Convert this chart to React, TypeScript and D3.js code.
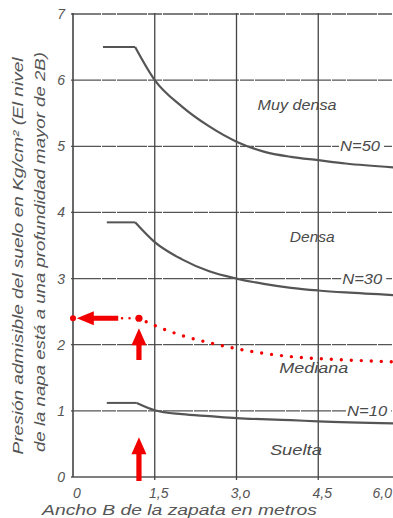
import React from 'react';
import * as d3 from 'd3';

const W = 393;
const H = 518;

// Axis ticks
const yTicks = [0, 1, 2, 3, 4, 5, 6, 7];
const yTickLabels = ['0', '1', '2', '3', '4', '5', '6', '7'];
const xTicks = [0, 1.5, 3, 4.5, 6];
const xTickLabels = ['0', '1,5', '3,o', '4,5', '6,0'];

// Muy densa (N=50)
const muyDensaFlatX = [0.55, 1.14];
const muyDensaFlatY = [6.5, 6.5];
const muyDensaX = [1.14, 1.5, 2.0, 2.5, 3.0, 3.5, 4.0, 4.5, 5.0, 5.9];
const muyDensaY = [6.5, 6.0, 5.6, 5.3, 5.07, 4.92, 4.84, 4.79, 4.74, 4.68];

// Densa (N=30)
const densaFlatX = [0.62, 1.14];
const densaFlatY = [3.85, 3.85];
const densaX = [1.14, 1.5, 2.0, 2.5, 3.0, 3.5, 4.0, 4.5, 5.0, 5.9];
const densaY = [3.85, 3.55, 3.29, 3.11, 3.0, 2.92, 2.86, 2.82, 2.79, 2.75];

// Mediana (red dotted)
const medianaFlatX = [0.9, 1.21];
const medianaFlatY = [2.4, 2.4];
const medianaX = [1.21, 1.5, 2.0, 2.5, 3.0, 3.5, 4.0, 4.5, 5.0, 5.9];
const medianaY = [2.4, 2.29, 2.14, 2.03, 1.94, 1.87, 1.82, 1.79, 1.77, 1.74];

// Suelta (N=10)
const sueltaFlatX = [0.62, 1.17];
const sueltaFlatY = [1.12, 1.12];
const sueltaX = [1.17, 1.5, 2.0, 2.5, 3.0, 4.0, 4.5, 5.9];
const sueltaY = [1.12, 1.01, 0.95, 0.92, 0.89, 0.86, 0.84, 0.81];

// Reading of the example
const readB = 1.21;
const readP = 2.4;

const zoneLabels = ['Muy densa', 'Densa', 'Mediana', 'Suelta'];
const nLabels = ['N=50', 'N=30', 'N=10'];
const nValues = [5, 3, 1];

const yTitle1 = 'Presión admisible del suelo en Kg/cm² (El nivel';
const yTitle2 = 'de la napa está a una profundidad mayor de 2B)';
const xTitle = 'Ancho B de la zapata en metros';

const FONT = "'Liberation Sans', 'DejaVu Sans', sans-serif";
const INK = '#4a4a4a';
const RED = '#f20000';

function zip(xs: number[], ys: number[]): [number, number][] {
  return xs.map((v, i) => [v, ys[i]] as [number, number]);
}

export default function App() {
  const x = d3.scaleLinear().domain([0, 6]).range([73, 400]);
  const y = d3.scaleLinear().domain([0, 7]).range([477, 14]);

  const straight = d3
    .line<[number, number]>()
    .x((d) => x(d[0]))
    .y((d) => y(d[1]));
  const smooth = d3
    .line<[number, number]>()
    .x((d) => x(d[0]))
    .y((d) => y(d[1]))
    .curve(d3.curveMonotoneX);

  const curves = [
    [zip(muyDensaFlatX, muyDensaFlatY), zip(muyDensaX, muyDensaY)],
    [zip(densaFlatX, densaFlatY), zip(densaX, densaY)],
    [zip(sueltaFlatX, sueltaFlatY), zip(sueltaX, sueltaY)],
  ];

  const zonePos: [number, number, number][] = [
    [4.11, 5.55, 79],
    [4.39, 3.55, 45],
    [4.42, 1.57, 69],
    [4.09, 0.33, 52],
  ];
  const nStart = [4.9, 4.94, 5.03];

  const ax = x(readB);
  const ay = y(readP);

  const leftArrow = (() => {
    const tip = x(0.07);
    const base = tip + 17;
    const tail = x(0.83);
    return `M${tip},${ay} L${base},${ay - 7} L${base},${ay - 2.6} L${tail},${ay - 2.6} L${tail},${ay + 2.6} L${base},${ay + 2.6} L${base},${ay + 7} Z`;
  })();
  const upArrow = (tipV: number, tailV: number) => {
    const tip = y(tipV);
    const base = tip + 17;
    const tail = y(tailV);
    return `M${ax},${tip} L${ax - 7.5},${base} L${ax - 2.6},${base} L${ax - 2.6},${tail} L${ax + 2.6},${tail} L${ax + 2.6},${base} L${ax + 7.5},${base} Z`;
  };

  return (
    <svg
      width={W}
      height={H}
      style={{ position: 'absolute', left: 0, top: 0, background: '#fff' }}
      fontFamily={FONT}
    >
      <rect x={0} y={0} width={W} height={H} fill="#fff" />

      {/* horizontal grid */}
      {yTicks.map((t) => (
        <line
          key={'h' + t}
          x1={x(0) - 2}
          x2={W}
          y1={y(t)}
          y2={y(t)}
          stroke="#555"
          strokeWidth={1.3}
          strokeDasharray={t === 0 ? undefined : '30 1 14 1'}
        />
      ))}
      {/* vertical grid */}
      {xTicks.map((t) => (
        <line
          key={'v' + t}
          x1={x(t)}
          x2={x(t)}
          y1={y(7) - 1}
          y2={y(0) + (t === 0 ? 0 : 3)}
          stroke="#444"
          strokeWidth={t === 0 ? 1.6 : 1.3}
        />
      ))}

      {/* y tick labels */}
      {yTicks.map((t, i) => (
        <text
          key={'yl' + t}
          x={x(0) - 8}
          y={y(t) + 5}
          textAnchor="end"
          fontSize={14}
          fontStyle="italic"
          fill="#555"
        >
          {yTickLabels[i]}
        </text>
      ))}
      {/* x tick labels */}
      {xTicks.map((t, i) => {
        const last = x(t) + 16 > W;
        return (
          <text
            key={'xl' + t}
            x={last ? W - 1 : x(t) + 4}
            y={498}
            textAnchor={last ? 'end' : 'middle'}
            fontSize={14}
            fontStyle="italic"
            fill="#555"
          >
            {xTickLabels[i]}
          </text>
        );
      })}

      {/* N labels */}
      {nLabels.map((l, i) => (
        <g key={l}>
          <rect x={x(nStart[i]) - 1} y={y(nValues[i]) - 8} width={45} height={16} fill="#fff" />
          <text
            x={x(nStart[i])}
            y={y(nValues[i]) + 5}
            fontSize={14}
            fontStyle="italic"
            fill={INK}
            textLength={40}
            lengthAdjust="spacingAndGlyphs"
          >
            {l}
          </text>
        </g>
      ))}

      {/* black curves */}
      {curves.map((c, i) => (
        <g key={'c' + i}>
          <path d={straight(c[0]) || ''} fill="none" stroke="#555" strokeWidth={2} />
          <path d={smooth(c[1]) || ''} fill="none" stroke="#555" strokeWidth={2.2} />
        </g>
      ))}

      {/* zone labels */}
      {zoneLabels.map((l, i) => (
        <text
          key={l}
          x={x(zonePos[i][0])}
          y={y(zonePos[i][1])}
          textAnchor="middle"
          fontSize={14}
          fontStyle="italic"
          fill={INK}
          textLength={zonePos[i][2]}
          lengthAdjust="spacingAndGlyphs"
        >
          {l}
        </text>
      ))}

      {/* mediana dotted red */}
      <path
        d={straight(zip(medianaFlatX, medianaFlatY)) || ''}
        fill="none"
        stroke={RED}
        strokeWidth={2.6}
        strokeLinecap="round"
        strokeDasharray="0 7.5"
      />
      <path
        d={smooth(zip(medianaX, medianaY)) || ''}
        fill="none"
        stroke={RED}
        strokeWidth={3.4}
        strokeLinecap="round"
        strokeDasharray="0 10"
        strokeDashoffset={-8}
      />
      <circle cx={ax} cy={ay} r={3.6} fill={RED} />
      <circle cx={x(0)} cy={ay} r={3} fill={RED} />

      {/* arrows */}
      <path d={leftArrow} fill={RED} />
      <path d={upArrow(2.25, 1.77)} fill={RED} />
      <path d={upArrow(0.6, -0.06)} fill={RED} />

      {/* axis titles */}
      <text
        transform={`translate(23, 256) rotate(-90)`}
        textAnchor="middle"
        fontSize={14}
        fontStyle="italic"
        fill="#555"
        textLength={397}
        lengthAdjust="spacingAndGlyphs"
      >
        {yTitle1}
      </text>
      <text
        transform={`translate(45, 252) rotate(-90)`}
        textAnchor="middle"
        fontSize={14}
        fontStyle="italic"
        fill="#555"
        textLength={400}
        lengthAdjust="spacingAndGlyphs"
      >
        {yTitle2}
      </text>
      <text
        x={42}
        y={515}
        fontSize={15}
        fontStyle="italic"
        fill="#555"
        textLength={275}
        lengthAdjust="spacingAndGlyphs"
      >
        {xTitle}
      </text>
    </svg>
  );
}
